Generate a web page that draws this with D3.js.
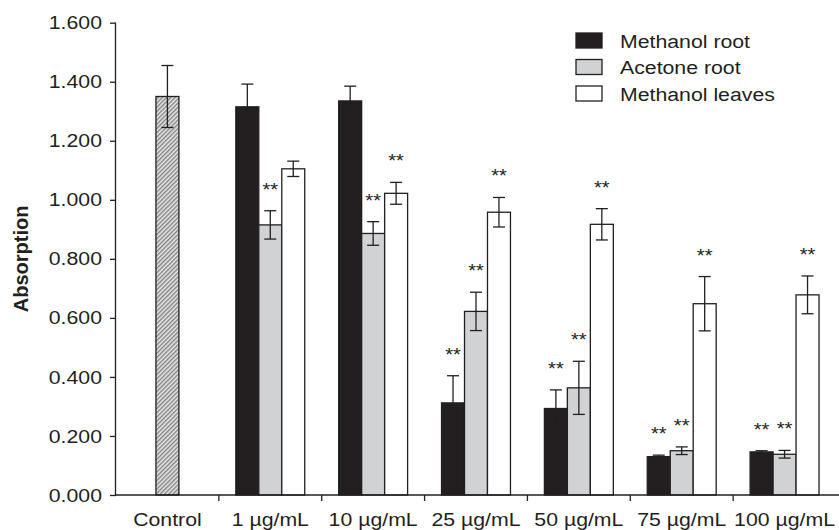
<!DOCTYPE html>
<html>
<head>
<meta charset="utf-8">
<script src="https://cdn.jsdelivr.net/npm/d3@7"></script>
<style>
  body { margin: 0; background: #fff; }
  svg { display: block; font-family: "Liberation Sans", Arial, sans-serif; }
</style>
</head>
<body>
<svg id="chart" width="839" height="530"></svg>
<script>
// Concentration groups and extract series
const groups = ["Control", "1 µg/mL", "10 µg/mL", "25 µg/mL", "50 µg/mL", "75 µg/mL", "100 µg/mL"];
const seriesNames = ["Methanol root", "Acetone root", "Methanol leaves"];

// Control absorption (mean, error)
const controlValue = 1.350;
const controlError = 0.105;

// Mean absorption per concentration (1 µg/mL … 100 µg/mL)
const methanolRoot   = [1.315, 1.335, 0.312, 0.293, 0.130, 0.146];
const acetoneRoot    = [0.915, 0.886, 0.622, 0.363, 0.150, 0.138];
const methanolLeaves = [1.105, 1.022, 0.958, 0.917, 0.648, 0.678];

// Error bar half-lengths
const methanolRootErr   = [0.077, 0.050, 0.092, 0.063, 0.005, 0.004];
const acetoneRootErr    = [0.048, 0.040, 0.065, 0.090, 0.013, 0.013];
const methanolLeavesErr = [0.026, 0.037, 0.050, 0.053, 0.092, 0.064];

// Significance markers (** where shown)
const methanolRootSig   = [false, false, true, true, true, true];
const acetoneRootSig    = [true, true, true, true, true, true];
const methanolLeavesSig = [false, true, true, true, true, true];

const yTicks = [0, 0.2, 0.4, 0.6, 0.8, 1.0, 1.2, 1.4, 1.6];

const fills = ["#231f20", "#d1d2d4", "#ffffff"];
const ink = "#231f20";
const wide = 1.12;   // horizontal widening of the lettering

const svg = d3.select("#chart");
const mLeft = 116, mRight = 836, mTop = 22.7, mBottom = 495;

const x = d3.scaleBand().domain(groups).range([mLeft, mRight]).padding(0);
const y = d3.scaleLinear().domain([0, 1.6]).range([mBottom, mTop]);
const bw = x.bandwidth();
const xSub = d3.scaleBand().domain(seriesNames).range([bw * 0.165, bw * 0.835]).padding(0);

// Text helper: places a label at (tx, ty) with widened glyphs
function label(parent, tx, ty, str, size, anchor, weight) {
  return parent.append("text")
    .attr("transform", `translate(${tx},${ty}) scale(${wide},1)`)
    .attr("text-anchor", anchor || "start")
    .attr("font-size", size)
    .attr("font-weight", weight || "normal")
    .attr("fill", ink)
    .text(str);
}

// Hatch pattern for the control bar
const defs = svg.append("defs");
const pat = defs.append("pattern")
  .attr("id", "hatch").attr("patternUnits", "userSpaceOnUse")
  .attr("width", 3).attr("height", 3)
  .attr("patternTransform", "rotate(45)");
pat.append("rect").attr("width", 3).attr("height", 3).attr("fill", "#e8e8e8");
pat.append("line").attr("x1", 0.75).attr("y1", 0).attr("x2", 0.75).attr("y2", 3)
  .attr("stroke", "#707070").attr("stroke-width", 1.2);

// Build rows
const rows = groups.slice(1).map((g, i) => ({
  group: g,
  items: [
    { s: seriesNames[0], v: methanolRoot[i], e: methanolRootErr[i], sig: methanolRootSig[i], f: fills[0] },
    { s: seriesNames[1], v: acetoneRoot[i], e: acetoneRootErr[i], sig: acetoneRootSig[i], f: fills[1] },
    { s: seriesNames[2], v: methanolLeaves[i], e: methanolLeavesErr[i], sig: methanolLeavesSig[i], f: fills[2] }
  ]
}));

const plot = svg.append("g");

// Control bar
const cw = xSub.bandwidth();
const cx = x("Control") + bw / 2;
plot.append("rect")
  .attr("x", cx - cw / 2).attr("y", y(controlValue))
  .attr("width", cw).attr("height", y(0) - y(controlValue))
  .attr("fill", "url(#hatch)").attr("stroke", ink).attr("stroke-width", 1.3);

function errorBar(g, cxp, v, e) {
  const cap = 6;
  g.append("line").attr("x1", cxp).attr("x2", cxp).attr("y1", y(v + e)).attr("y2", y(v - e))
    .attr("stroke", ink).attr("stroke-width", 1.3);
  [v + e, v - e].forEach(t => {
    g.append("line").attr("x1", cxp - cap).attr("x2", cxp + cap).attr("y1", y(t)).attr("y2", y(t))
      .attr("stroke", ink).attr("stroke-width", 1.3);
  });
}

// Grouped bars
rows.forEach(r => {
  const gg = plot.append("g").attr("transform", `translate(${x(r.group)},0)`);
  r.items.forEach(d => {
    gg.append("rect")
      .attr("x", xSub(d.s)).attr("y", y(d.v))
      .attr("width", xSub.bandwidth()).attr("height", y(0) - y(d.v))
      .attr("fill", d.f).attr("stroke", ink).attr("stroke-width", 1.3);
  });
  r.items.forEach(d => {
    const c = xSub(d.s) + xSub.bandwidth() / 2;
    errorBar(gg, c, d.v, d.e);
    if (d.sig) label(gg, c, y(d.v + d.e) - 15, "**", 18, "middle");
  });
});

// Control error bar
errorBar(plot, cx, controlValue, controlError);

// Y axis
const yAxis = d3.axisLeft(y).tickValues(yTicks).tickFormat(d3.format(".3f")).tickSize(6).tickPadding(8);
const ya = svg.append("g").attr("transform", `translate(${mLeft},0)`).call(yAxis);
ya.select(".domain").attr("d", `M-0.5,${mTop}V${mBottom}`).attr("stroke", ink).attr("stroke-width", 1.3);
ya.selectAll(".tick line").attr("stroke", ink).attr("stroke-width", 1.3);
ya.selectAll(".tick text")
  .attr("x", 0)
  .attr("transform", `translate(-14,0) scale(${wide},1)`)
  .attr("font-size", 19).attr("fill", ink)
  .attr("font-family", "Liberation Sans, Arial, sans-serif");

// X axis: ticks at group boundaries
const xa = svg.append("g").attr("transform", `translate(0,${mBottom})`);
xa.append("line").attr("x1", mLeft).attr("x2", mRight + 3).attr("y1", 0).attr("y2", 0)
  .attr("stroke", ink).attr("stroke-width", 1.3);
groups.slice(1).forEach(g => {
  xa.append("line").attr("x1", x(g)).attr("x2", x(g)).attr("y1", 0).attr("y2", 6)
    .attr("stroke", ink).attr("stroke-width", 1.3);
});
groups.forEach(g => label(xa, x(g) + bw / 2, 31, g, 19, "middle"));

// Y axis title
svg.append("text")
  .attr("transform", `translate(28,${(mTop + mBottom) / 2}) rotate(-90)`)
  .attr("text-anchor", "middle").attr("font-size", 20).attr("font-weight", "bold").attr("fill", ink)
  .text("Absorption");

// Legend
const lg = svg.append("g").attr("transform", "translate(576,33)");
seriesNames.forEach((s, i) => {
  lg.append("rect").attr("x", 0).attr("y", i * 26.5).attr("width", 26).attr("height", 15)
    .attr("fill", fills[i]).attr("stroke", ink).attr("stroke-width", 1.3);
  label(lg, 44, i * 26.5 + 14.5, s, 19, "start");
});
</script>
</body>
</html>
